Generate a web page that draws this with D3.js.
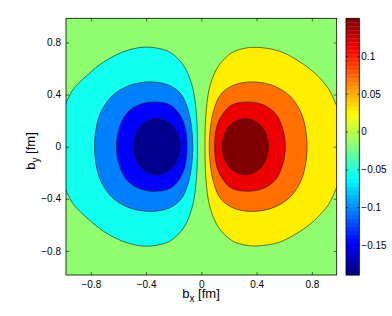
<!DOCTYPE html>
<html>
<head>
<meta charset="utf-8">
<script src="https://cdn.jsdelivr.net/npm/d3@7"></script>
<style>
    body { margin: 0; background: #fff; }
    svg { display: block; font-family: "Liberation Sans", Arial, sans-serif; }
</style>
</head>
<body>
<div id="chart"></div>
<script>
// axis ticks
const xTicks = [-0.8, -0.4, 0, 0.4, 0.8];
const yTicks = [-0.8, -0.4, 0, 0.4, 0.8];
const colorTicks = [-0.15, -0.1, -0.05, 0, 0.05, 0.1];
const xDomain = [-0.98, 0.98];
const yDomain = [-0.985, 0.985];
const colorDomain = [-0.19, 0.15];

// contour outlines, [bx, by] in fm
const negOuter = [
    [-1.06, 0], [-1.03, -0.2], [-0.983, -0.327], [-0.93, -0.437], [-0.83, -0.545],
    [-0.7, -0.655], [-0.56, -0.73], [-0.423, -0.763], [-0.3, -0.752], [-0.22, -0.72],
    [-0.13, -0.625], [-0.07, -0.48], [-0.04, -0.3], [-0.028, 0], [-0.04, 0.3],
    [-0.07, 0.48], [-0.13, 0.625], [-0.22, 0.72], [-0.3, 0.752], [-0.423, 0.763],
    [-0.56, 0.73], [-0.7, 0.655], [-0.83, 0.545], [-0.93, 0.437], [-0.983, 0.327],
    [-1.03, 0.2],
];
const negMid = [
    [-0.773, 0], [-0.765, -0.12], [-0.73, -0.26], [-0.645, -0.39], [-0.52, -0.47],
    [-0.362, -0.497], [-0.23, -0.47], [-0.145, -0.4], [-0.095, -0.28], [-0.07, -0.14],
    [-0.062, 0], [-0.07, 0.14], [-0.095, 0.28], [-0.145, 0.4], [-0.23, 0.47],
    [-0.362, 0.497], [-0.52, 0.47], [-0.645, 0.39], [-0.73, 0.26], [-0.765, 0.12],
];
const negInner = [
    [-0.615, 0], [-0.597, -0.13], [-0.545, -0.25], [-0.455, -0.32], [-0.338, -0.343],
    [-0.225, -0.32], [-0.16, -0.25], [-0.118, -0.15], [-0.103, 0], [-0.118, 0.15],
    [-0.16, 0.25], [-0.225, 0.32], [-0.338, 0.343], [-0.455, 0.32], [-0.545, 0.25],
    [-0.597, 0.13],
];
const negCore = [
    [-0.49, 0], [-0.467, -0.11], [-0.415, -0.18], [-0.322, -0.216], [-0.229, -0.18],
    [-0.177, -0.11], [-0.152, 0], [-0.177, 0.11], [-0.229, 0.18], [-0.322, 0.216],
    [-0.415, 0.18], [-0.467, 0.11],
];
const posOuter = [
    [1.06, 0], [1.03, -0.2], [0.978, -0.318], [0.92, -0.445], [0.82, -0.565],
    [0.7, -0.66], [0.56, -0.735], [0.4, -0.762], [0.3, -0.752], [0.22, -0.72],
    [0.125, -0.62], [0.065, -0.475], [0.037, -0.3], [0.026, 0], [0.037, 0.3],
    [0.065, 0.475], [0.125, 0.62], [0.22, 0.72], [0.3, 0.752], [0.4, 0.762],
    [0.56, 0.735], [0.7, 0.66], [0.82, 0.565], [0.92, 0.445], [0.978, 0.318],
    [1.03, 0.2],
];
const posMid = [
    [0.765, 0], [0.757, -0.12], [0.722, -0.26], [0.64, -0.39], [0.515, -0.47],
    [0.362, -0.497], [0.23, -0.47], [0.14, -0.4], [0.09, -0.28], [0.065, -0.14],
    [0.057, 0], [0.065, 0.14], [0.09, 0.28], [0.14, 0.4], [0.23, 0.47],
    [0.362, 0.497], [0.515, 0.47], [0.64, 0.39], [0.722, 0.26], [0.757, 0.12],
];
const posInner = [
    [0.608, 0], [0.591, -0.13], [0.54, -0.25], [0.45, -0.32], [0.335, -0.342],
    [0.22, -0.32], [0.155, -0.25], [0.111, -0.15], [0.096, 0], [0.111, 0.15],
    [0.155, 0.25], [0.22, 0.32], [0.335, 0.342], [0.45, 0.32], [0.54, 0.25],
    [0.591, 0.13],
];
const posCore = [
    [0.485, 0], [0.463, -0.11], [0.411, -0.18], [0.318, -0.215], [0.225, -0.18],
    [0.174, -0.11], [0.152, 0], [0.174, 0.11], [0.225, 0.18], [0.318, 0.215],
    [0.411, 0.18], [0.463, 0.11],
];

const bands = [negOuter, negMid, negInner, negCore, posOuter, posMid, posInner, posCore];
const bandColors = ['#10ffef', '#0080ff', '#0000ff', '#00008f', '#ffee00', '#ff7000', '#ee0000', '#800000'];
const backgroundColor = '#8fff70';

const width = 392;
const height = 316;
const plot = { left: 66, right: 336.7, top: 18.3, bottom: 275 };
const bar = { left: 346, right: 359.3 };

const svg = d3.select('#chart')
    .append('svg')
    .attr('width', width)
    .attr('height', height);

const x = d3.scaleLinear().domain(xDomain).range([plot.left, plot.right]);
const y = d3.scaleLinear().domain(yDomain).range([plot.bottom, plot.top]);
const c = d3.scaleLinear().domain(colorDomain).range([plot.bottom, plot.top]);

svg.append('clipPath')
    .attr('id', 'plot-clip')
    .append('rect')
    .attr('x', plot.left)
    .attr('y', plot.top)
    .attr('width', plot.right - plot.left)
    .attr('height', plot.bottom - plot.top);

const field = svg.append('g')
    .attr('clip-path', 'url(#plot-clip)');

field.append('rect')
    .attr('x', plot.left)
    .attr('y', plot.top)
    .attr('width', plot.right - plot.left)
    .attr('height', plot.bottom - plot.top)
    .attr('fill', backgroundColor);

const outline = d3.line()
    .x(d => x(d[0]))
    .y(d => y(d[1]))
    .curve(d3.curveCatmullRomClosed.alpha(0.5));

field.selectAll('path.band')
    .data(bands)
    .join('path')
    .attr('class', 'band')
    .attr('d', outline)
    .attr('fill', (d, i) => bandColors[i])
    .attr('stroke', '#1a1a1a')
    .attr('stroke-width', 0.6);

// axes, MATLAB style: ticks inside on all four sides
const styleAxis = g => {
    g.select('.domain').remove();
    g.selectAll('.tick line').attr('stroke', '#000').attr('stroke-width', 0.6);
    g.selectAll('.tick text').attr('fill', '#000').attr('font-size', 10);
};
const fmt = d => d3.format('.1~f')(d).replace('-', '\u2212');

svg.append('g')
    .attr('transform', `translate(0,${plot.bottom})`)
    .call(d3.axisBottom(x).tickValues(xTicks).tickSize(-3).tickPadding(6).tickFormat(fmt))
    .call(styleAxis);
svg.append('g')
    .attr('transform', `translate(0,${plot.top})`)
    .call(d3.axisTop(x).tickValues(xTicks).tickSize(-3).tickFormat(''))
    .call(styleAxis);
svg.append('g')
    .attr('transform', `translate(${plot.left},0)`)
    .call(d3.axisLeft(y).tickValues(yTicks).tickSize(-3).tickPadding(5).tickFormat(fmt))
    .call(styleAxis);
svg.append('g')
    .attr('transform', `translate(${plot.right},0)`)
    .call(d3.axisRight(y).tickValues(yTicks).tickSize(-3).tickFormat(''))
    .call(styleAxis);

svg.append('rect')
    .attr('x', plot.left)
    .attr('y', plot.top)
    .attr('width', plot.right - plot.left)
    .attr('height', plot.bottom - plot.top)
    .attr('fill', 'none')
    .attr('stroke', '#000')
    .attr('stroke-width', 0.8);

// colorbar: jet, 64 cells
const jet = t => {
    const clamp = v => Math.max(0, Math.min(1, v));
    const r = clamp(Math.min(4 * t - 1.5, -4 * t + 4.5));
    const g = clamp(Math.min(4 * t - 0.5, -4 * t + 3.5));
    const b = clamp(Math.min(4 * t + 0.5, -4 * t + 2.5));
    return d3.rgb(r * 255, g * 255, b * 255);
};
const cells = d3.range(64);
const cellValue = d3.scaleLinear().domain([0, 64]).range(colorDomain);

svg.append('g')
    .selectAll('rect')
    .data(cells)
    .join('rect')
    .attr('x', bar.left)
    .attr('width', bar.right - bar.left)
    .attr('y', i => c(cellValue(i + 1)))
    .attr('height', i => c(cellValue(i)) - c(cellValue(i + 1)) + 0.3)
    .attr('fill', i => jet((i + 0.5) / 64));

const cfmt = d => d3.format('~g')(d).replace('-', '\u2212');
svg.append('g')
    .attr('transform', `translate(${bar.right},0)`)
    .call(d3.axisRight(c).tickValues(colorTicks).tickSize(-2).tickPadding(2).tickFormat(cfmt))
    .call(styleAxis);
svg.append('g')
    .attr('transform', `translate(${bar.left},0)`)
    .call(d3.axisLeft(c).tickValues(colorTicks).tickSize(-2).tickFormat(''))
    .call(styleAxis);

svg.append('rect')
    .attr('x', bar.left)
    .attr('y', plot.top)
    .attr('width', bar.right - bar.left)
    .attr('height', plot.bottom - plot.top)
    .attr('fill', 'none')
    .attr('stroke', '#000')
    .attr('stroke-width', 0.8);

// axis labels
const xLabel = svg.append('text')
    .attr('x', 201)
    .attr('y', 297.5)
    .attr('text-anchor', 'middle')
    .attr('font-size', 13);
xLabel.append('tspan').text('b');
xLabel.append('tspan').attr('font-size', 10).attr('dy', 4).text('x');
xLabel.append('tspan').attr('dy', -4).text(' [fm]');

const yLabel = svg.append('text')
    .attr('transform', 'translate(35,151) rotate(-90)')
    .attr('text-anchor', 'middle')
    .attr('font-size', 13);
yLabel.append('tspan').text('b');
yLabel.append('tspan').attr('font-size', 10).attr('dy', 4).text('y');
yLabel.append('tspan').attr('dy', -4).text(' [fm]');
</script>
</body>
</html>
